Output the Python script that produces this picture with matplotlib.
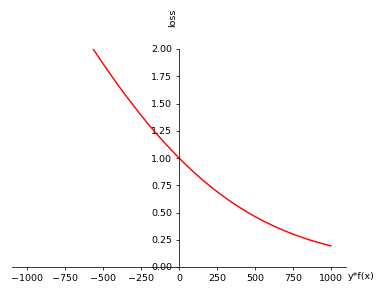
import matplotlib
matplotlib.use('Agg')
import matplotlib.pyplot as plt

# values
z = [-600, -550, -500, -450, -400, -350, -300, -250, -200, -150, -100, -50, 0,
     50, 100, 150, 200, 250, 300, 350, 400, 450, 500, 550, 600, 650, 700,
     750, 800, 850, 900, 950, 1000]
loss = [2.07, 1.968, 1.864, 1.764, 1.666, 1.572, 1.481, 1.392, 1.307, 1.225, 1.147, 1.072, 1.000,
        0.932, 0.867, 0.805, 0.747, 0.692, 0.640, 0.591, 0.546, 0.503, 0.463, 0.426, 0.392, 0.359, 0.330,
        0.302, 0.277, 0.253, 0.232, 0.212, 0.194]
x_range = [-1000, 1000]

dpi = 68
fig = plt.figure(figsize=(383 / dpi, 291 / dpi), dpi=dpi)
ax = fig.add_axes([12 / 383, 24 / 291, 334 / 383, 218 / 291])

ax.plot(z, loss, color='red', lw=1.5)
ax.set_xlim(x_range[0] * 1.1, x_range[1] * 1.1)
ax.set_ylim(0, 2)
ax.set_yticks([0, 0.25, 0.5, 0.75, 1.0, 1.25, 1.5, 1.75, 2.0])

ax.spines['left'].set_position('zero')
ax.spines['bottom'].set_position('zero')
ax.spines['right'].set_visible(False)
ax.spines['top'].set_visible(False)

ax.set_xlabel('y*f(x)', ha='left', va='center')
ax.xaxis.set_label_coords(1.004, -0.044)
ax.set_ylabel('loss', ha='center', va='center')
ax.yaxis.set_label_coords(0.4805, 1.142)

fig.savefig('out.png', dpi=dpi)
